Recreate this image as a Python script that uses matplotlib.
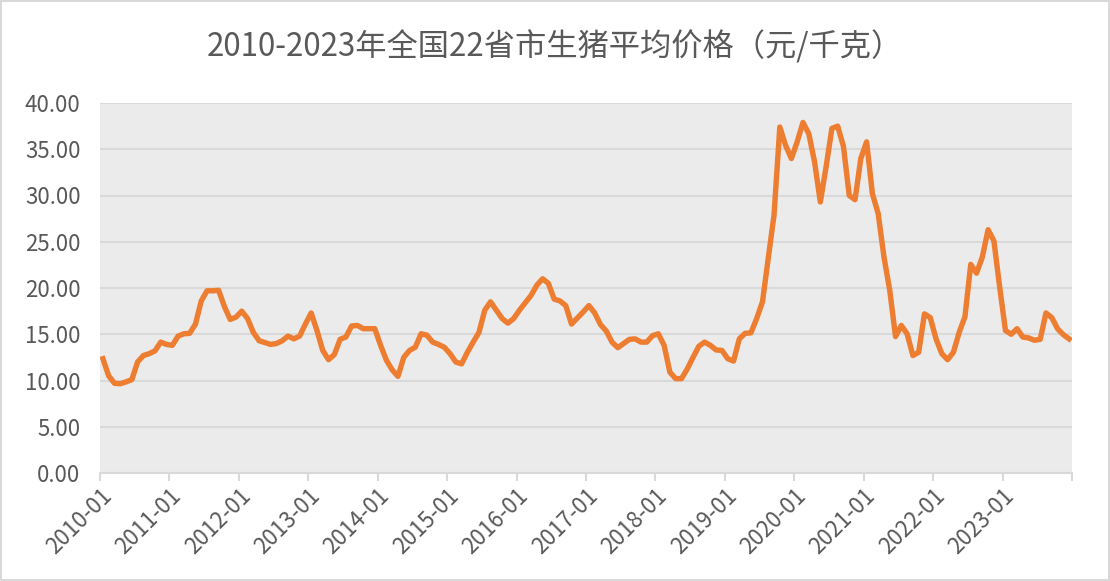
import numpy as np
import matplotlib.pyplot as plt

plt.rcParams['font.family'] = ['Noto Sans CJK SC', 'DejaVu Sans']

title = '2010-2023年全国22省市生猪平均价格（元/千克）'

# monthly price, 2010-01 .. 2023-12
prices_2010 = [12.35, 10.5, 9.7, 9.65, 9.85, 10.1, 12.0, 12.7, 12.9, 13.2, 14.15, 13.9]
prices_2011 = [13.8, 14.8, 15.05, 15.1, 16.1, 18.6, 19.7, 19.7, 19.75, 18.0, 16.6, 16.85]
prices_2012 = [17.5, 16.7, 15.2, 14.3, 14.1, 13.9, 14.0, 14.3, 14.8, 14.5, 14.8, 16.1]
prices_2013 = [17.3, 15.4, 13.25, 12.25, 12.8, 14.45, 14.7, 15.9, 15.95, 15.6, 15.6, 15.6]
prices_2014 = [13.8, 12.2, 11.15, 10.45, 12.5, 13.25, 13.6, 15.05, 14.9, 14.15, 13.9, 13.6]
prices_2015 = [12.9, 12.0, 11.8, 13.05, 14.15, 15.2, 17.6, 18.5, 17.6, 16.7, 16.2, 16.7]
prices_2016 = [17.6, 18.4, 19.2, 20.3, 21.0, 20.5, 18.8, 18.6, 18.1, 16.1, 16.75, 17.4]
prices_2017 = [18.1, 17.3, 16.05, 15.35, 14.15, 13.55, 14.0, 14.45, 14.5, 14.15, 14.15, 14.85]
prices_2018 = [15.05, 13.8, 10.9, 10.2, 10.2, 11.25, 12.5, 13.7, 14.15, 13.8, 13.3, 13.25]
prices_2019 = [12.35, 12.1, 14.5, 15.1, 15.15, 16.7, 18.5, 23.2, 27.9, 37.4, 35.4, 34.0]
prices_2020 = [35.8, 37.9, 36.7, 33.65, 29.3, 33.1, 37.25, 37.5, 35.3, 30.0, 29.55, 34.0]
prices_2021 = [35.8, 30.2, 28.05, 23.35, 19.75, 14.75, 15.95, 15.05, 12.7, 13.05, 17.2, 16.8]
prices_2022 = [14.5, 12.9, 12.25, 13.05, 15.2, 16.9, 22.55, 21.6, 23.35, 26.3, 25.1, 20.1]
prices_2023 = [15.4, 15.0, 15.6, 14.7, 14.6, 14.35, 14.45, 17.3, 16.8, 15.6, 14.95, 14.5]

prices = (prices_2010 + prices_2011 + prices_2012 + prices_2013 + prices_2014
          + prices_2015 + prices_2016 + prices_2017 + prices_2018 + prices_2019
          + prices_2020 + prices_2021 + prices_2022 + prices_2023)
years = list(range(2010, 2024))
year_labels = [f'{y}-01' for y in years]

fig = plt.figure(figsize=(11.1, 5.81), dpi=100)
fig.patch.set_edgecolor('#d9d9d9')
fig.patch.set_linewidth(1.5)
ax = fig.add_axes([100 / 1110, 1 - 473 / 581, 972 / 1110, 370 / 581])
ax.set_facecolor('#ebebeb')

x = np.arange(len(prices))
ax.plot(x, prices, color='#ed7d31', linewidth=3.9, solid_joinstyle='round', zorder=3)

ax.set_xlim(-0.5, len(prices) - 0.5)
ax.set_ylim(0, 40)
ax.set_yticks(np.arange(0, 41, 5))
ax.set_yticklabels([f'{v:.2f}' for v in np.arange(0, 41, 5)])
ax.grid(axis='y', color='#d9d9d9', linewidth=1.5)
ax.set_axisbelow(True)

ticks = np.arange(0, len(prices) + 1, 12) - 0.5
ax.set_xticks(ticks)
ax.set_xticklabels(year_labels + [''], rotation=45, ha='right', va='top',
                   rotation_mode='anchor')

for s in ['top', 'right', 'left']:
    ax.spines[s].set_visible(False)
ax.spines['bottom'].set_color('#d9d9d9')
ax.spines['bottom'].set_linewidth(1.5)
ax.tick_params(axis='y', length=0, pad=14, labelsize=16, labelcolor='#595959')
ax.tick_params(axis='x', length=6, width=1.5, color='#d9d9d9', pad=2,
               labelsize=16, labelcolor='#595959')

fig.text(0.5, 1 - 47 / 581, title, ha='center', va='center', fontsize=22.5,
         color='#595959')

fig.savefig('out.png', dpi=100)
